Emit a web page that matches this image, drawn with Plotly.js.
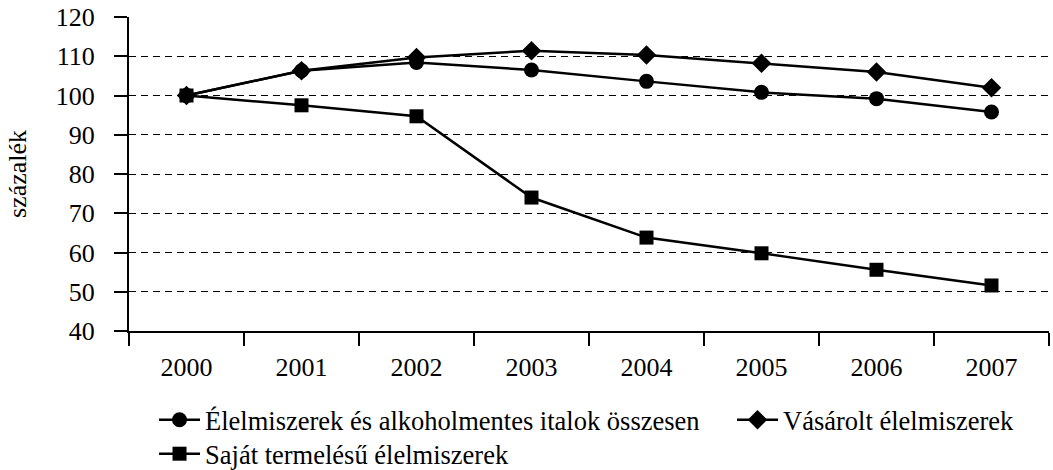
<!DOCTYPE html>
<html><head><meta charset="utf-8">
<script src="https://cdn.plot.ly/plotly-3.0.1.min.js"></script>
<style>html,body{margin:0;padding:0;background:#fff}#chart{width:1053px;height:470px}</style>
</head><body><div id="chart"></div>
<script>
const years = ['2000', '2001', '2002', '2003', '2004', '2005', '2006', '2007'];
const osszesen = [100, 106.3, 108.4, 106.5, 103.6, 100.8, 99.2, 95.8];
const vasarolt = [100, 106.3, 109.7, 111.4, 110.3, 108.2, 106.0, 102.0];
const sajat = [100, 97.5, 94.7, 74.0, 63.8, 59.8, 55.6, 51.6];
const seriesNames = ['Élelmiszerek és alkoholmentes italok összesen', 'Vásárolt élelmiszerek', 'Saját termelésű élelmiszerek'];
const yTicks = [40, 50, 60, 70, 80, 90, 100, 110, 120];
const yTitle = 'százalék';

const FONT = '"Liberation Serif", "Times New Roman", serif';
const lineStyle = {color: '#000', width: 2.5};

const traces = [
  {x: years, y: osszesen, name: seriesNames[0], type: 'scatter', mode: 'lines+markers',
   line: lineStyle, marker: {symbol: 'circle', size: 15, color: '#000'}, legend: 'legend', legendwidth: 522},
  {x: years, y: vasarolt, name: seriesNames[1], type: 'scatter', mode: 'lines+markers',
   line: lineStyle, marker: {symbol: 'diamond', size: 15, color: '#000'}, legend: 'legend'},
  {x: years, y: sajat, name: seriesNames[2], type: 'scatter', mode: 'lines+markers',
   line: lineStyle, marker: {symbol: 'square', size: 14, color: '#000'}, legend: 'legend2'}
];

const legendCommon = {orientation: 'h', xanchor: 'left', yanchor: 'top', x: 0.0272,
  font: {family: FONT, size: 26.5, color: '#000'}, itemwidth: 41, bgcolor: 'rgba(0,0,0,0)',
  traceorder: 'normal', itemclick: false, itemdoubleclick: false};

const layout = {
  width: 1053, height: 470,
  margin: {l: 129, r: 4, t: 17, b: 139, autoexpand: false},
  paper_bgcolor: '#fff', plot_bgcolor: '#fff',
  font: {family: FONT, size: 26, color: '#000'},
  showlegend: true,
  legend: Object.assign({}, legendCommon, {y: -0.207}),
  legend2: Object.assign({}, legendCommon, {y: -0.3152}),
  xaxis: {
    type: 'category', range: [-0.5, 7.5], tickson: 'boundaries',
    ticks: 'outside', ticklen: 13, tickwidth: 2, tickcolor: '#000',
    showline: true, linewidth: 2, linecolor: '#000', showgrid: false, zeroline: false,
    tickfont: {family: FONT, size: 26, color: '#000'}, ticklabelstandoff: 12,
    automargin: false, fixedrange: true
  },
  yaxis: {
    range: [40, 120], tickvals: yTicks, ticktext: yTicks.map(String),
    ticks: 'outside', ticklen: 13, tickwidth: 2, tickcolor: '#000',
    showline: true, linewidth: 2, linecolor: '#000', zeroline: false,
    showgrid: true, gridcolor: '#000', gridwidth: 1, griddash: '7px,5px',
    tickfont: {family: FONT, size: 26, color: '#000'}, ticklabelstandoff: 14,
    title: {text: yTitle, font: {family: FONT, size: 26, color: '#000'}, standoff: 22},
    automargin: false, fixedrange: true
  }
};

Plotly.newPlot('chart', traces, layout, {staticPlot: true, displayModeBar: false});
</script></body></html>
